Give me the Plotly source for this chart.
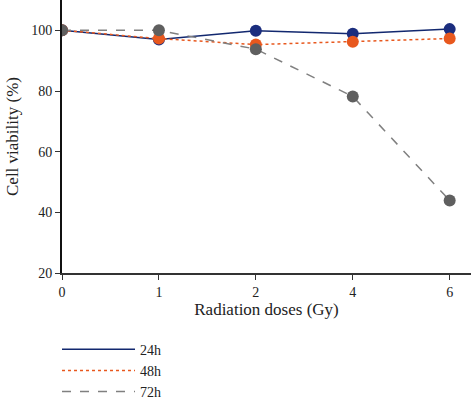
import plotly.graph_objects as go

doses = ["0", "1", "2", "4", "6"]
v24 = [100, 97.0, 99.9, 98.9, 100.4]
v48 = [100, 97.3, 95.3, 96.2, 97.3]
v72 = [100, 100.0, 93.8, 78.2, 43.9]
yticks = [20, 40, 60, 80, 100]
names = ["24h", "48h", "72h"]

xpos = list(range(len(doses)))
font = "Liberation Serif"

styles = [
    dict(line=dict(color="#12286f", width=1.5), marker="#1b2d7e"),
    dict(line=dict(color="#e8581e", width=1.5, dash="dot"), marker="#e8581e"),
    dict(line=dict(color="#808080", width=1.5, dash="dash"), marker="#5f5f5f"),
]

fig = go.Figure()
for name, vals, st in zip(names, [v24, v48, v72], styles):
    fig.add_trace(go.Scatter(x=xpos, y=vals, name=name, mode="lines+markers",
                             line=st["line"], showlegend=False,
                             marker=dict(color=st["marker"], size=12)))
for name, vals, st in zip(names, [v24, v48, v72], styles):
    fig.add_trace(go.Scatter(x=[None], y=[None], name=name, mode="lines",
                             line=st["line"], showlegend=True))

fig.update_layout(
    width=471, height=401,
    margin=dict(l=62, r=0, t=0, b=128, autoexpand=False),
    paper_bgcolor="white", plot_bgcolor="white",
    font=dict(family=font, size=14, color="#222"),
    showlegend=True,
    legend=dict(orientation="v", x=-0.0122, xanchor="left",
                y=-0.222, yanchor="top",
                itemwidth=73, tracegroupgap=0, font=dict(size=14),
                bgcolor="rgba(0,0,0,0)"),
    xaxis=dict(range=[0, 4.22], tickvals=xpos, ticktext=doses, automargin=False,
               showgrid=False, zeroline=False, showline=True, linecolor="#333",
               linewidth=2, ticks="outside", ticklen=5, tickcolor="#333",
               title=dict(text="Radiation doses (Gy)", standoff=0)),
    yaxis=dict(range=[20, 110], tickvals=yticks, automargin=False,
               showgrid=False, zeroline=False, showline=True, linecolor="#111",
               linewidth=2, ticks="outside", ticklen=5, tickcolor="#333",
               title=dict(text="Cell viability (%)", standoff=8)),
)

fig.write_html("out.html", config={"displayModeBar": False},
               post_script="document.body.style.margin='0';document.body.style.overflow='hidden';")
